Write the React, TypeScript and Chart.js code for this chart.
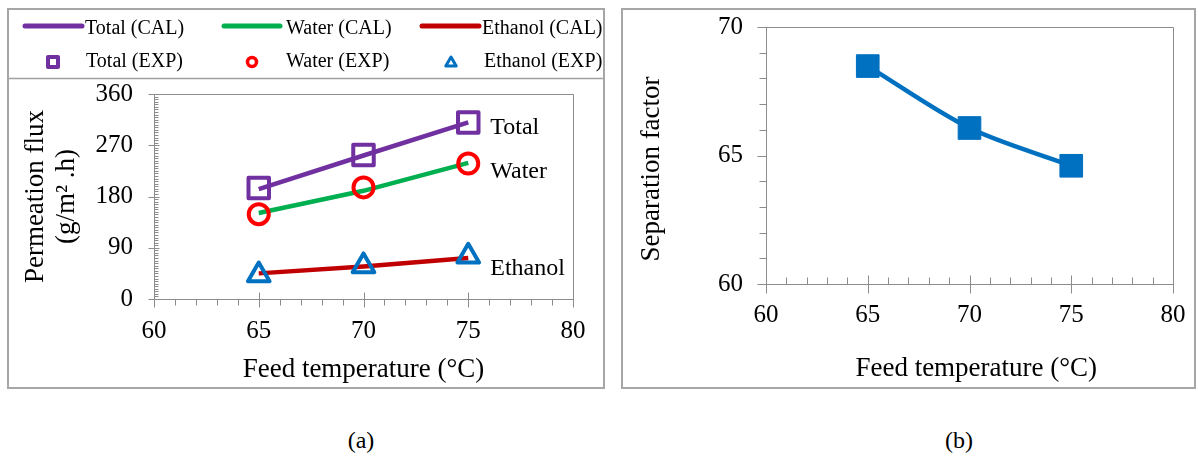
import React, { useEffect, useRef } from 'react';
import { Chart, registerables } from 'chart.js';

Chart.register(...registerables);

const FONT = "'Liberation Serif', 'Times New Roman', serif";
Chart.defaults.font.family = FONT;
Chart.defaults.color = '#000';

// ---------- data ----------
const temperatures = [65, 70, 75];
const totalCal = [193, 252, 310];
const waterCal = [151, 190, 239];
const ethanolCal = [45, 57, 72];
const totalExp = [195, 253, 310];
const waterExp = [149, 196, 238];
const ethanolExp = [42, 58, 75];
const separationFactor = [68.48, 66.07, 64.6];

const xTicks = [60, 65, 70, 75, 80];
const yTicksA = [0, 90, 180, 270, 360];
const yTicksB = [60, 65, 70];

const seriesLabelTexts = ['Total', 'Water', 'Ethanol'];
const seriesLabelValues = [300, 223, 54];

// ---------- styles ----------
const PURPLE = '#7030A0';
const GREEN = '#00B050';
const DARKRED = '#C00000';
const RED = '#FF0000';
const BLUE = '#0070C0';
const AXIS = '#8c8c8c';

const pts = (ys: number[]) => temperatures.map((x, i) => ({ x, y: ys[i] }));

const tickMarks = {
  id: 'tickMarks',
  beforeDatasetsDraw(chart: any, _a: any, opts: any) {
    const { ctx, chartArea: ca } = chart;
    ctx.save();
    ctx.strokeStyle = AXIS;
    ctx.lineWidth = 1;
    ctx.beginPath();
    ctx.moveTo(Math.round(ca.left), Math.round(ca.top) + 0.5);
    ctx.lineTo(Math.round(ca.right) + 0.5, Math.round(ca.top) + 0.5);
    ctx.lineTo(Math.round(ca.right) + 0.5, Math.round(ca.bottom));
    ctx.stroke();
    for (const key of ['x', 'y']) {
      const cfg = opts[key];
      if (!cfg) continue;
      const s = chart.scales[key];
      const draw = (step: number, inner: number, outer: number) => {
        const n = Math.round((s.max - s.min) / step);
        for (let i = 0; i <= n; i++) {
          const v = s.min + i * step;
          const p = Math.round(s.getPixelForValue(v)) + 0.5;
          ctx.beginPath();
          if (key === 'x') {
            const b = Math.round(ca.bottom) + 0.5;
            ctx.moveTo(p, b - inner);
            ctx.lineTo(p, b + outer);
          } else {
            const l = Math.round(ca.left) + 0.5;
            ctx.moveTo(l - outer, p);
            ctx.lineTo(l + inner, p);
          }
          ctx.stroke();
        }
      };
      draw(cfg.minor, cfg.minorIn, cfg.minorOut);
      draw(cfg.major, cfg.majorIn, cfg.majorOut);
    }
    ctx.restore();
    ctx.lineJoin = 'round';
  },
};

const gridLegend = {
  id: 'gridLegend',
  afterDraw(chart: any, _a: any, opts: any) {
    if (!opts || !opts.items) return;
    const ctx = chart.ctx;
    ctx.save();
    ctx.strokeStyle = opts.dividerColor;
    ctx.lineWidth = 1.5;
    ctx.beginPath();
    ctx.moveTo(0, opts.dividerY);
    ctx.lineTo(chart.width, opts.dividerY);
    ctx.stroke();
    ctx.font = `${opts.size}px ${FONT}`;
    ctx.textBaseline = 'middle';
    ctx.textAlign = 'left';
    ctx.fillStyle = '#000';
    chart.data.datasets.forEach((ds: any, i: number) => {
      const it = opts.items[i];
      if (!it) return;
      ctx.strokeStyle = ds.borderColor;
      if (ds.showLine) {
        ctx.lineWidth = 5;
        ctx.lineCap = 'round';
        ctx.beginPath();
        ctx.moveTo(it.x0, it.y);
        ctx.lineTo(it.x1, it.y);
        ctx.stroke();
      } else {
        ctx.lineJoin = 'round';
        const cx = it.x0;
        const cy = it.y;
        ctx.beginPath();
        if (ds.pointStyle === 'rect') {
          ctx.lineWidth = 4;
          ctx.rect(cx - 5, cy - 5, 10, 10);
        } else if (ds.pointStyle === 'circle') {
          ctx.lineWidth = 3.5;
          ctx.arc(cx, cy, 4.5, 0, Math.PI * 2);
        } else {
          ctx.lineWidth = 3;
          const r = 6;
          ctx.moveTo(cx, cy - r);
          ctx.lineTo(cx + r * 0.866, cy + r * 0.5);
          ctx.lineTo(cx - r * 0.866, cy + r * 0.5);
          ctx.closePath();
        }
        ctx.stroke();
      }
      ctx.fillText(ds.label, it.tx, it.ty);
    });
    ctx.restore();
  },
};

const seriesLabels = {
  id: 'seriesLabels',
  afterDatasetsDraw(chart: any, _a: any, opts: any) {
    if (!opts || !opts.texts) return;
    const { ctx, scales } = chart;
    ctx.save();
    ctx.font = `${opts.size}px ${FONT}`;
    ctx.fillStyle = '#000';
    ctx.textBaseline = 'middle';
    ctx.textAlign = 'left';
    opts.texts.forEach((t: string, i: number) => {
      ctx.fillText(t, scales.x.getPixelForValue(opts.x) + opts.dx, scales.y.getPixelForValue(opts.values[i]));
    });
    ctx.restore();
  },
};

const fixX = (h: number) => (s: any) => {
  s.height = h;
  s.paddingLeft = 0;
  s.paddingRight = 0;
};
const fixY = (w: number) => (s: any) => {
  s.width = w;
  s.paddingTop = 0;
  s.paddingBottom = 0;
};

function configA(): any {
  return {
    type: 'scatter',
    data: {
      datasets: [
        { label: 'Total (CAL)', data: pts(totalCal), showLine: true, borderColor: PURPLE, borderWidth: 4.5, pointRadius: 0, order: 2 },
        { label: 'Water (CAL)', data: pts(waterCal), showLine: true, borderColor: GREEN, borderWidth: 4.5, pointRadius: 0, order: 2 },
        { label: 'Ethanol (CAL)', data: pts(ethanolCal), showLine: true, borderColor: DARKRED, borderWidth: 4.5, pointRadius: 0, order: 2 },
        { label: 'Total (EXP)', data: pts(totalExp), showLine: false, pointStyle: 'rect', pointRadius: 14.5, pointBorderWidth: 4, borderColor: PURPLE, pointBorderColor: PURPLE, backgroundColor: 'transparent', pointBackgroundColor: 'transparent', order: 1 },
        { label: 'Water (EXP)', data: pts(waterExp), showLine: false, pointStyle: 'circle', pointRadius: 10, pointBorderWidth: 4, borderColor: RED, pointBorderColor: RED, backgroundColor: 'transparent', pointBackgroundColor: 'transparent', order: 1 },
        { label: 'Ethanol (EXP)', data: pts(ethanolExp), showLine: false, pointStyle: 'triangle', pointRadius: 12.5, pointBorderWidth: 4, borderColor: BLUE, pointBorderColor: BLUE, backgroundColor: 'transparent', pointBackgroundColor: 'transparent', order: 1 },
      ],
    },
    options: {
      responsive: false,
      animation: false,
      events: [],
      layout: { padding: { top: 84, right: 30, left: 0, bottom: 0 } },
      plugins: {
        legend: { display: false },
        tooltip: { enabled: false },
        tickMarks: {
          x: { major: 5, minor: 1, majorIn: 7, majorOut: 8, minorIn: 0, minorOut: 6 },
          y: { major: 90, minor: 4.5, majorIn: 5, majorOut: 6, minorIn: 4, minorOut: 0 },
        },
        gridLegend: {
          size: 20,
          dividerY: 68.5,
          dividerColor: '#a0a0a0',
          items: [
            { x0: 16, x1: 73, y: 16, tx: 76, ty: 18.5 },
            { x0: 215, x1: 271, y: 16, tx: 277, ty: 18.5 },
            { x0: 413, x1: 470, y: 16, tx: 473, ty: 18.5 },
            { x0: 44, y: 52, tx: 77, ty: 52 },
            { x0: 243, y: 52, tx: 277, ty: 52 },
            { x0: 442, y: 53, tx: 475, ty: 52 },
          ],
        },
        seriesLabels: { size: 24, x: 75, dx: 22, texts: seriesLabelTexts, values: seriesLabelValues },
      },
      scales: {
        x: {
          type: 'linear',
          min: 60,
          max: 80,
          afterBuildTicks: (s: any) => { s.ticks = xTicks.map((v) => ({ value: v })); },
          afterFit: fixX(87),
          grid: { display: false, drawTicks: false },
          border: { display: true, color: AXIS, width: 1 },
          ticks: { padding: 17, font: { size: 25 }, color: '#000', maxRotation: 0 },
          title: { display: true, text: 'Feed temperature (°C)', font: { size: 27 }, color: '#000', padding: { top: 0, bottom: 0 } },
        },
        y: {
          type: 'linear',
          min: 0,
          max: 360,
          afterBuildTicks: (s: any) => { s.ticks = yTicksA.map((v) => ({ value: v })); },
          afterFit: fixY(145),
          grid: { display: false, drawTicks: false },
          border: { display: true, color: AXIS, width: 1 },
          ticks: { padding: 21, font: { size: 25 }, color: '#000' },
          title: { display: true, text: ['Permeation flux', '(g/m² .h)'], font: { size: 27, lineHeight: 1.15 }, color: '#000', padding: { top: 11.5, bottom: 0 } },
        },
      },
    },
    plugins: [tickMarks, gridLegend, seriesLabels],
  };
}

function configB(): any {
  return {
    type: 'scatter',
    data: {
      datasets: [
        {
          label: 'Separation factor',
          data: pts(separationFactor),
          showLine: true,
          borderColor: BLUE,
          backgroundColor: BLUE,
          borderWidth: 4.5,
          tension: 0.3,
          pointStyle: 'rect',
          pointRadius: 16,
          pointBorderWidth: 1,
          pointBorderColor: BLUE,
          pointBackgroundColor: BLUE,
        },
      ],
    },
    options: {
      responsive: false,
      animation: false,
      events: [],
      layout: { padding: { top: 17, right: 21, left: 0, bottom: 0 } },
      plugins: {
        legend: { display: false },
        tooltip: { enabled: false },
        tickMarks: {
          x: { major: 5, minor: 1, majorIn: 9, majorOut: 9, minorIn: 7, minorOut: 0 },
          y: { major: 5, minor: 1, majorIn: 0, majorOut: 9, minorIn: 0, minorOut: 7 },
        },
      },
      scales: {
        x: {
          type: 'linear',
          min: 60,
          max: 80,
          afterBuildTicks: (s: any) => { s.ticks = xTicks.map((v) => ({ value: v })); },
          afterFit: fixX(102),
          grid: { display: false, drawTicks: false },
          border: { display: true, color: AXIS, width: 1 },
          ticks: { padding: 16, font: { size: 25 }, color: '#000', maxRotation: 0 },
          title: { display: true, text: '\u00a0\u00a0Feed temperature (°C)', font: { size: 27 }, color: '#000', padding: { top: 0, bottom: 1 } },
        },
        y: {
          type: 'linear',
          min: 60,
          max: 70,
          afterBuildTicks: (s: any) => { s.ticks = yTicksB.map((v) => ({ value: v })); },
          afterFit: fixY(143),
          grid: { display: false, drawTicks: false },
          border: { display: true, color: AXIS, width: 1 },
          ticks: { padding: 23, font: { size: 25 }, color: '#000' },
          title: { display: true, text: 'Separation factor\u00a0\u00a0\u00a0\u00a0', font: { size: 27 }, color: '#000', padding: { top: 13, bottom: 0 } },
        },
      },
    },
    plugins: [tickMarks],
  };
}

export default function App() {
  const refA = useRef<HTMLCanvasElement>(null);
  const refB = useRef<HTMLCanvasElement>(null);

  useEffect(() => {
    const a = new Chart(refA.current as HTMLCanvasElement, configA());
    const b = new Chart(refB.current as HTMLCanvasElement, configB());
    return () => {
      a.destroy();
      b.destroy();
    };
  }, []);

  const abs = (l: number, t: number, w: number, h: number): React.CSSProperties => ({
    position: 'absolute', left: l, top: t, width: w, height: h,
  });

  return (
    <div style={{ position: 'absolute', left: 0, top: 0, width: 1198, height: 456, background: '#fff', overflow: 'hidden' }}>
      <div style={{ ...abs(7, 8, 598, 381), border: '2px solid #a6a6a6', boxSizing: 'border-box' }} />
      <div style={{ ...abs(621, 8, 575, 381), border: '2px solid #a6a6a6', boxSizing: 'border-box' }} />
      <canvas ref={refA} width={594} height={376} style={{ ...abs(9, 10, 594, 376), display: 'block' }} />
      <canvas ref={refB} width={571} height={376} style={{ ...abs(623, 10, 571, 376), display: 'block' }} />
      <div style={{ position: 'absolute', left: 311, top: 425, width: 100, textAlign: 'center', font: `24px ${FONT}`, lineHeight: '30px', color: '#000' }}>(a)</div>
      <div style={{ position: 'absolute', left: 909, top: 425, width: 100, textAlign: 'center', font: `24px ${FONT}`, lineHeight: '30px', color: '#000' }}>(b)</div>
    </div>
  );
}
